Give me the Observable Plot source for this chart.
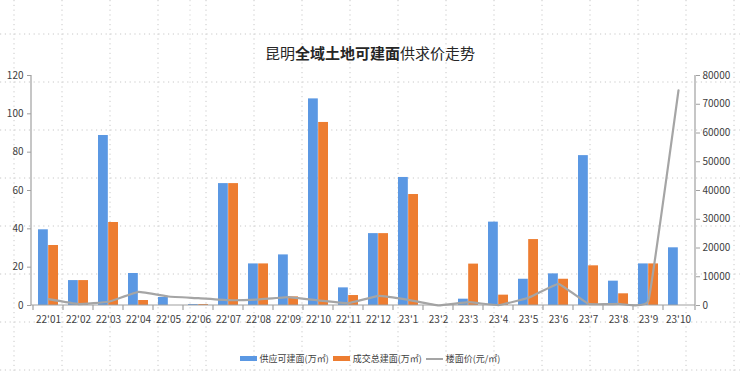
<!DOCTYPE html>
<html>
<head>
<meta charset="utf-8">
<script src="https://cdn.jsdelivr.net/npm/d3@7"></script>
<script src="https://cdn.jsdelivr.net/npm/@observablehq/plot@0.6"></script>
<style>
  html, body { margin: 0; padding: 0; background: #fff; }
  #wrap { position: relative; width: 740px; height: 373px; overflow: hidden; font-family: "Noto Sans CJK SC", "Noto Sans", sans-serif; }
  #bg { position: absolute; left: 0; top: 0; }
  #title { position: absolute; left: 0; top: 42px; width: 740px; text-align: center; font-size: 15px; line-height: 22px; color: #262626; }
  #title b { font-weight: 700; }
  #chart { position: absolute; left: 0; top: 0; }
  #legend { position: absolute; left: 0; top: 352px; width: 740px; display: flex; justify-content: center; align-items: center; font-size: 9px; color: #404040; gap: 2px; }
  .item { display: flex; align-items: center; margin: 0 1px; }
  .sw { width: 17px; height: 5px; margin-right: 3px; }
  .ln { width: 17px; height: 2px; background: #a5a5a5; margin-right: 3px; }
</style>
</head>
<body>
<div id="wrap">
  <svg id="bg" width="740" height="373"></svg>
  <div id="chart"></div>
  <div id="title">昆明<b>全域土地可建面</b>供求价走势</div>
  <div id="legend">
    <div class="item"><div class="sw" style="background:#5b98e3"></div>供应可建面(万㎡)</div>
    <div class="item"><div class="sw" style="background:#ed7d31"></div>成交总建面(万㎡)</div>
    <div class="item"><div class="ln"></div>楼面价(元/㎡)</div>
  </div>
</div>
<script>
const months = ["22'01","22'02","22'03","22'04","22'05","22'06","22'07","22'08","22'09","22'10","22'11","22'12",
                "23'1","23'2","23'3","23'4","23'5","23'6","23'7","23'8","23'9","23'10"];
const supply = [39.5,13,88.7,16.7,4.2,0.5,63.6,21.7,26.4,107.8,9.2,37.5,66.8,0,3.3,43.5,13.7,16.5,78.2,12.7,21.7,30.1];
const deal   = [31.3,13,43.3,2.6,0,0.5,63.6,21.7,4.5,95.5,5.2,37.5,57.9,0,21.6,5.4,34.4,13.7,20.7,6.1,21.7,null];
const price  = [2200,500,1300,4750,3130,2550,1850,2090,2900,1740,810,3360,1970,0,1160,100,2670,7530,580,580,1740,74800];
const leftTicks = [0,20,40,60,80,100,120];
const rightTicks = [0,10000,20000,30000,40000,50000,60000,70000,80000];

const data = months.map((m, i) => ({month: m, supply: supply[i], deal: deal[i], price: price[i]}));

// background dotted grid (decoration)
const bg = d3.select("#bg");
const step = 48;
for (let x = 14; x < 740; x += step) {
  bg.append("line").attr("x1", x).attr("x2", x).attr("y1", 0).attr("y2", 373)
    .attr("stroke", "#c8c8c8").attr("stroke-width", 1).attr("stroke-dasharray", "1.2,3.6");
}
bg.append("line").attr("x1", 190).attr("x2", 190).attr("y1", 0).attr("y2", 373)
  .attr("stroke", "#d4d4d4").attr("stroke-width", 1).attr("stroke-dasharray", "1.2,3.6");
for (let y = 34 - step; y < 373; y += step) {
  bg.append("line").attr("x1", 0).attr("x2", 740).attr("y1", y).attr("y2", y)
    .attr("stroke", "#c8c8c8").attr("stroke-width", 1).attr("stroke-dasharray", "1.2,3.6");
}

const W = 740, H = 330, mL = 31, mR = 45, mT = 75, mB = 25;
const bw = (W - mL - mR) / months.length;
const yMax = 120, pMax = 80000;

const axisLines = (index, scales, values, dim) => {
  const g = d3.create("svg:g").attr("stroke", "#a0a0a0").attr("stroke-width", 1.2).attr("fill", "none");
  const x0 = dim.marginLeft, x1 = dim.width - dim.marginRight;
  const y0 = dim.marginTop, y1 = dim.height - dim.marginBottom;
  g.append("line").attr("x1", x0).attr("x2", x0).attr("y1", y0).attr("y2", y1);
  g.append("line").attr("x1", x1).attr("x2", x1).attr("y1", y0).attr("y2", y1);
  g.append("line").attr("x1", x0).attr("x2", x1).attr("y1", y1).attr("y2", y1);
  const xs = months.map(m => scales.x(m)).concat([x1]);
  for (const x of xs) g.append("line").attr("x1", x).attr("x2", x).attr("y1", y1).attr("y2", y1 + 5);
  return g.node();
};

const chart = Plot.plot({
  width: W, height: H,
  marginLeft: mL, marginRight: mR, marginTop: mT, marginBottom: mB,
  style: {background: "transparent", fontFamily: "'Noto Sans CJK SC', 'Noto Sans', sans-serif", fontSize: "10px", color: "#404040", overflow: "visible"},
  x: {domain: months, padding: 0, axis: null},
  y: {domain: [0, yMax], axis: null},
  marks: [
    Plot.barY(data, {x: "month", y: "supply", fill: "#5b98e3", insetLeft: 5, insetRight: bw - 15}),
    Plot.barY(data.filter(d => d.deal != null), {x: "month", y: "deal", fill: "#ed7d31", insetLeft: bw - 15, insetRight: 5}),
    Plot.line(data, {x: "month", y: d => d.price * yMax / pMax, stroke: "#a5a5a5", strokeWidth: 2.2, curve: "cardinal", tension: 0.75}),
    axisLines,
    Plot.axisY({anchor: "left", ticks: leftTicks, tickSize: 4, tickPadding: 4, stroke: "#a0a0a0", fill: "#404040", label: null}),
    Plot.axisY({anchor: "right", ticks: rightTicks.map(v => v * yMax / pMax), tickFormat: (d, i) => String(rightTicks[i]), tickSize: 4, tickPadding: 3, stroke: "#a0a0a0", fill: "#404040", label: null}),
    Plot.axisX({anchor: "bottom", tickSize: 0, tickPadding: 10, fill: "#404040", label: null})
  ]
});
document.getElementById("chart").appendChild(chart);
</script>
</body>
</html>
